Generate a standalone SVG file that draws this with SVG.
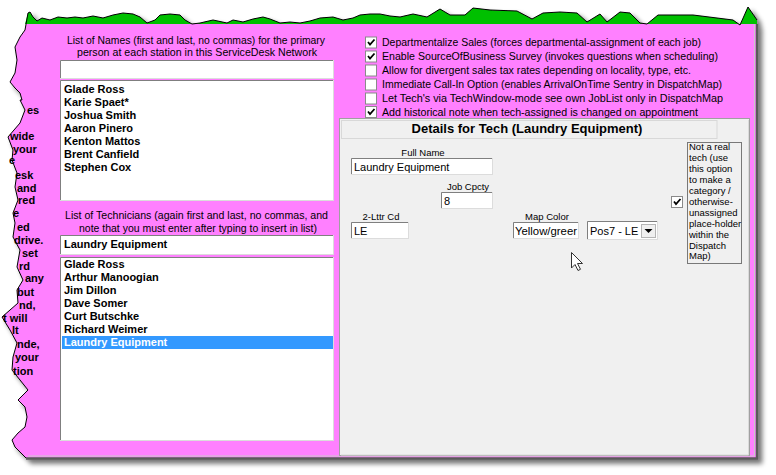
<svg xmlns="http://www.w3.org/2000/svg" width="776" height="475" viewBox="0 0 776 475">
<defs>
<style>
.t{font-family:"Liberation Sans",Arial,Helvetica,sans-serif;font-size:11px;fill:#000}
.b{font-weight:bold}
.s{font-size:9.5px}
.in{fill:#fff;stroke:#DCDCDC;stroke-width:1}
.dk{fill:none;stroke:#7F7F7F;stroke-width:1}
.chk{fill:#fff;stroke:#8A8A8A;stroke-width:1}
.mark{fill:none;stroke:#000;stroke-width:1.8;stroke-linejoin:miter}
.edge{fill:none;stroke:#000;stroke-width:1}
</style>
<filter id="sh" x="-5%" y="-5%" width="112%" height="115%">
<feGaussianBlur in="SourceAlpha" stdDeviation="2.5"/>
<feOffset dx="4" dy="4" result="o"/>
<feComponentTransfer><feFuncA type="linear" slope="0.55"/></feComponentTransfer>
<feMerge><feMergeNode/><feMergeNode in="SourceGraphic"/></feMerge>
</filter>
</defs>
<rect width="776" height="475" fill="#fff"/>

<g id="page" filter="url(#sh)">
<path id="paper" fill="#FF80FF" d="M28,13 L30,12 L33,17 L37,21 L42,18 L50,20 L58,17 L67,18 L75,17 L83,18 L93,16 L103,18 L113,15 L123,13 L133,14 L140,17 L147,23 L155,20 L160,15 L170,14 L180,15 L185,20 L192,24 L200,23 L213,20 L227,23 L233,20 L243,22 L253,19 L263,17 L270,19 L280,23 L290,22 L300,23 L310,21 L320,18 L333,17 L343,20 L353,18 L360,15 L370,14 L380,14 L390,16 L400,17 L413,14 L427,17 L440,9 L450,15 L465,15 L473,8 L490,10 L517,11 L532,19 L543,13 L560,12 L577,13 L587,22 L600,14 L607,22 L620,12 L630,13 L640,23 L647,24 L658,15 L693,15 L733,20 L740,25 L748,7 L757,20 L758,459 L27,459 L23,455 L15,447 L12,440 L18,433 L25,427 L27,417 L25,407 L18,400 L28,390 L20,380 L12,370 L13,357 L17,343 L10,330 L2,317 L18,303 L17,290 L23,280 L17,267 L20,250 L13,237 L15,223 L13,213 L18,200 L15,187 L17,173 L12,160 L13,150 L8,137 L20,123 L25,110 L20,100 L22,100 L20,93 L15,88 L10,82 L15,73 L17,60 L15,47 L20,37 L25,30 Z"/>
<path id="titlebar" fill="#00C000" d="M28,13 L30,12 L33,17 L37,21 L42,18 L50,20 L58,17 L67,18 L75,17 L83,18 L93,16 L103,18 L113,15 L123,13 L133,14 L140,17 L147,23 L155,20 L160,15 L170,14 L180,15 L185,20 L192,24 L200,23 L213,20 L227,23 L233,20 L243,22 L253,19 L263,17 L270,19 L280,23 L290,22 L300,23 L310,21 L320,18 L333,17 L343,20 L353,18 L360,15 L370,14 L380,14 L390,16 L400,17 L413,14 L427,17 L440,9 L450,15 L465,15 L473,8 L490,10 L517,11 L532,19 L543,13 L560,12 L577,13 L587,22 L600,14 L607,22 L620,12 L630,13 L640,23 L647,24 L658,15 L693,15 L733,20 L740,25 L748,7 L757,20 L757,24 L25,24 Z"/>
<path class="edge" d="M25,30 L28,13 L30,12 L33,17 L37,21 L42,18 L50,20 L58,17 L67,18 L75,17 L83,18 L93,16 L103,18 L113,15 L123,13 L133,14 L140,17 L147,23 L155,20 L160,15 L170,14 L180,15 L185,20 L192,24 L200,23 L213,20 L227,23 L233,20 L243,22 L253,19 L263,17 L270,19 L280,23 L290,22 L300,23 L310,21 L320,18 L333,17 L343,20 L353,18 L360,15 L370,14 L380,14 L390,16 L400,17 L413,14 L427,17 L440,9 L450,15 L465,15 L473,8 L490,10 L517,11 L532,19 L543,13 L560,12 L577,13 L587,22 L600,14 L607,22 L620,12 L630,13 L640,23 L647,24 L658,15 L693,15 L733,20 L740,25 L748,7 L757,20"/>
<path class="edge" d="M27,459 L23,455 L15,447 L12,440 L18,433 L25,427 L27,417 L25,407 L18,400 L28,390 L20,380 L12,370 L13,357 L17,343 L10,330 L2,317 L18,303 L17,290 L23,280 L17,267 L20,250 L13,237 L15,223 L13,213 L18,200 L15,187 L17,173 L12,160 L13,150 L8,137 L20,123 L25,110 L20,100 L22,100 L20,93 L15,88 L10,82 L15,73 L17,60 L15,47 L20,37 L25,30"/>
<path d="M757,24 V458.5 H26" fill="none" stroke="#5A5A5A" stroke-width="2.5"/>
<path d="M754.5,24 V456 H28" fill="none" stroke="#C8C8C8" stroke-width="1"/>
</g>

<g id="left-fragments" class="t b">
<text x="27" y="114">es</text>
<text x="10" y="140">wide</text>
<text x="13" y="153">your</text>
<text x="9" y="164">e</text>
<text x="15" y="179">esk</text>
<text x="17" y="192">and</text>
<text x="18" y="204">red</text>
<text x="13" y="217">e</text>
<text x="17" y="231">ed</text>
<text x="14" y="244">drive.</text>
<text x="22" y="257">set</text>
<text x="19" y="270">rd</text>
<text x="25" y="282">any</text>
<text x="17" y="296">but</text>
<text x="19" y="309">nd,</text>
<text x="3" y="322">t will</text>
<text x="12" y="334">lt</text>
<text x="17" y="348">nde,</text>
<text x="15" y="361">your</text>
<text x="13" y="375">tion</text>
</g>

<g id="names-list">
<text class="t" x="196" y="43.5" text-anchor="middle" textLength="258" lengthAdjust="spacingAndGlyphs">List of Names (first and last, no commas) for the primary</text>
<text class="t" x="197" y="56" text-anchor="middle" textLength="240" lengthAdjust="spacingAndGlyphs">person at each station in this ServiceDesk Network</text>
<rect class="in" x="60.5" y="60.5" width="273" height="18"/>
<path class="dk" d="M60.5,78 V60.5 H333"/>
<rect class="in" x="60.5" y="80.5" width="273" height="120"/>
<path class="dk" d="M60.5,200 V80.5 H333"/>
<g class="t b">
<text x="64" y="93">Glade Ross</text>
<text x="64" y="106">Karie Spaet*</text>
<text x="64" y="119">Joshua Smith</text>
<text x="64" y="132">Aaron Pinero</text>
<text x="64" y="145">Kenton Mattos</text>
<text x="64" y="158">Brent Canfield</text>
<text x="64" y="171">Stephen Cox</text>
</g>
</g>

<g id="tech-list">
<text class="t" x="196.5" y="219" text-anchor="middle" textLength="263" lengthAdjust="spacingAndGlyphs">List of Technicians (again first and last, no commas, and</text>
<text class="t" x="198" y="232" text-anchor="middle" textLength="238" lengthAdjust="spacingAndGlyphs">note that you must enter after typing to insert in list)</text>
<rect class="in" x="60.5" y="235.5" width="273" height="19"/>
<path class="dk" d="M60.5,254 V235.5 H333"/>
<text class="t b" x="64" y="248">Laundry Equipment</text>
<rect class="in" x="60.5" y="257.5" width="273" height="183"/>
<path class="dk" d="M60.5,440 V257.5 H333"/>
<g class="t b">
<text x="64" y="268">Glade Ross</text>
<text x="64" y="281">Arthur Manoogian</text>
<text x="64" y="294">Jim Dillon</text>
<text x="64" y="307">Dave Somer</text>
<text x="64" y="320">Curt Butschke</text>
<text x="64" y="333">Richard Weimer</text>
</g>
<rect x="62" y="336" width="271" height="13" fill="#3399FF"/>
<text class="t b" x="64" y="346" style="fill:#fff">Laundry Equipment</text>
</g>

<g id="options">
<g>
<rect class="chk" x="365.5" y="37" width="11" height="11"/>
<path class="mark" d="M368,42 L370,44.5 L374.5,39.5"/>
<text class="t" x="382" y="45.5" textLength="319" lengthAdjust="spacingAndGlyphs">Departmentalize Sales (forces departmental-assignment of each job)</text>
</g>
<g>
<rect class="chk" x="365.5" y="51" width="11" height="11"/>
<path class="mark" d="M368,56 L370,58.5 L374.5,53.5"/>
<text class="t" x="382" y="59.5" textLength="336" lengthAdjust="spacingAndGlyphs">Enable SourceOfBusiness Survey (invokes questions when scheduling)</text>
</g>
<g>
<rect class="chk" x="365.5" y="65" width="11" height="11"/>
<text class="t" x="382" y="73.5" textLength="309" lengthAdjust="spacingAndGlyphs">Allow for divergent sales tax rates depending on locality, type, etc.</text>
</g>
<g>
<rect class="chk" x="365.5" y="79" width="11" height="11"/>
<text class="t" x="382" y="87.5" textLength="340" lengthAdjust="spacingAndGlyphs">Immediate Call-In Option (enables ArrivalOnTime Sentry in DispatchMap)</text>
</g>
<g>
<rect class="chk" x="365.5" y="93" width="11" height="11"/>
<text class="t" x="382" y="101.5" textLength="341" lengthAdjust="spacingAndGlyphs">Let Tech's via TechWindow-mode see own JobList only in DispatchMap</text>
</g>
<g>
<rect class="chk" x="365.5" y="106.5" width="11" height="11"/>
<path class="mark" d="M368,111.5 L370,114 L374.5,109"/>
<text class="t" x="382" y="115.5" textLength="316" lengthAdjust="spacingAndGlyphs">Add historical note when tech-assigned is changed on appointment</text>
</g>
</g>

<g id="details">
<rect x="339.5" y="118.5" width="410" height="337" fill="#F0F0F0" stroke="#A0A0A0"/>
<path d="M341,455 H748.5 V120" fill="none" stroke="#DADADA"/>
<rect x="341.5" y="120.5" width="375.5" height="18" fill="none" stroke="#D8D8D8"/>
<text class="t b" x="527" y="133" text-anchor="middle" style="font-size:13px">Details for Tech (Laundry Equipment)</text>

<text class="t s" x="423" y="156" text-anchor="middle">Full Name</text>
<rect class="in" x="351.5" y="158.5" width="141" height="16"/>
<path class="dk" d="M351.5,174 V158.5 H492"/>
<text class="t" x="354" y="171">Laundry Equipment</text>

<text class="t s" x="468" y="190" text-anchor="middle">Job Cpcty</text>
<rect class="in" x="441.5" y="192.5" width="51" height="16"/>
<path class="dk" d="M441.5,208 V192.5 H492"/>
<text class="t" x="444" y="205">8</text>

<text class="t s" x="381" y="220" text-anchor="middle">2-Lttr Cd</text>
<rect class="in" x="351.5" y="222.5" width="57" height="16"/>
<path class="dk" d="M351.5,238 V222.5 H408"/>
<text class="t" x="354" y="235">LE</text>

<text class="t s" x="547" y="220" text-anchor="middle">Map Color</text>
<rect class="in" x="513.5" y="222.5" width="65" height="16"/>
<path class="dk" d="M513.5,238 V222.5 H578"/>
<text class="t" x="515" y="235" textLength="62" lengthAdjust="spacingAndGlyphs">Yellow/greer</text>

<rect class="in" x="587.5" y="221.5" width="70" height="18"/>
<path class="dk" d="M587.5,239 V221.5 H657"/>
<text class="t" x="590" y="235">Pos7 - LE</text>
<rect x="641.5" y="224.5" width="14" height="13" fill="#F0F0F0" stroke="#B5B5B5"/>
<path d="M644.5,229 H652.5 L648.5,233 Z" fill="#000"/>

<rect class="chk" x="671.5" y="196.5" width="11" height="11"/>
<path class="mark" d="M674,201.5 L676,204 L680.5,199"/>
<rect x="687.5" y="142.5" width="54" height="121" fill="none" stroke="#000" stroke-dasharray="1,1"/>
<g class="t s">
<text x="689" y="150">Not a real</text>
<text x="689" y="161">tech (use</text>
<text x="689" y="172">this option</text>
<text x="689" y="183">to make a</text>
<text x="689" y="194">category /</text>
<text x="689" y="205">otherwise-</text>
<text x="689" y="216">unassigned</text>
<text x="689" y="227">place-holder</text>
<text x="689" y="238">within the</text>
<text x="689" y="249">Dispatch</text>
<text x="689" y="259">Map)</text>
</g>
<path id="cursor" d="M571.5,252.5 V268 L575,264.5 L578,270.5 L580.5,269.3 L577.5,263.5 L582.5,263.5 Z" fill="#fff" stroke="#333" stroke-width="1" stroke-linejoin="round"/>
</g>
</svg>
